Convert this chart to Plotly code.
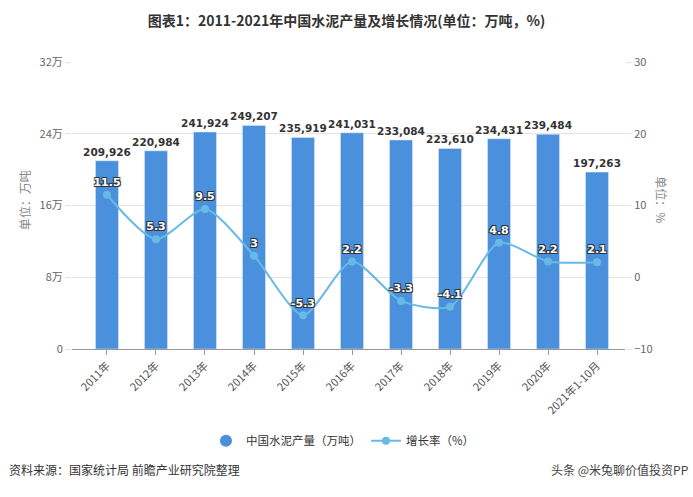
import plotly.graph_objects as go

categories = ["2011年", "2012年", "2013年", "2014年", "2015年", "2016年", "2017年",
              "2018年", "2019年", "2020年", "2021年1-10月"]
output_wan_ton = [209926, 220984, 241924, 249207, 235919, 241031, 233084,
                  223610, 234431, 239484, 197263]
growth_pct = [11.5, 5.3, 9.5, 3, -5.3, 2.2, -3.3, -4.1, 4.8, 2.2, 2.1]
left_ticks = [0, 80000, 160000, 240000, 320000]
left_tick_text = ["0", "8万", "16万", "24万", "32万"]
right_ticks = [-10, 0, 10, 20, 30]

FONT = "Noto Sans CJK SC"
BAR_COLOR = "#4a90dc"
LINE_COLOR = "#67b9e6"
idx = list(range(len(categories)))

fig = go.Figure()
fig.add_trace(go.Bar(
    x=idx, y=output_wan_ton, name="中国水泥产量（万吨）", showlegend=False,
    marker=dict(color=BAR_COLOR), width=0.47,
    text=[f"{v:,}" for v in output_wan_ton], textposition="outside",
    constraintext="none",
    textfont=dict(family="DejaVu Sans", size=10.5, color="#333333", weight="bold"),
    cliponaxis=False, yaxis="y",
))
# legend entry for bars (circle icon, as in the reference)
fig.add_trace(go.Scatter(
    x=[None], y=[None], mode="markers", name="中国水泥产量（万吨）",
    marker=dict(color=BAR_COLOR, size=12, symbol="circle"), yaxis="y",
))
fig.add_trace(go.Scatter(
    x=idx, y=growth_pct, name="增长率（%）", mode="lines+markers+text",
    line=dict(color=LINE_COLOR, width=2, shape="spline", smoothing=0.7),
    marker=dict(color=LINE_COLOR, size=8),
    text=[str(v) for v in growth_pct], textposition="top center",
    textfont=dict(family="DejaVu Sans", size=11, color="white", weight="bold",
                  shadow="-1px -1px 0 #333, 1px -1px 0 #333, -1px 1px 0 #333, 1px 1px 0 #333"),
    cliponaxis=False, yaxis="y2",
))

fig.update_layout(
    width=693, height=497,
    margin=dict(l=72, r=68, t=62, b=148),
    paper_bgcolor="white", plot_bgcolor="white",
    font=dict(family=FONT, color="#666666", size=11),
    title=dict(text="<b>图表1：2011-2021年中国水泥产量及增长情况(单位：万吨，%)</b>",
               x=0.5, xanchor="center", y=0.958, yanchor="middle",
               font=dict(family=FONT, size=14, color="#333333")),
    xaxis=dict(range=[-0.714, 10.571], tickmode="array", tickvals=idx, ticktext=categories,
               tickangle=-45, showgrid=False, showline=True, linecolor="#999999",
               ticks="outside", ticklen=5, tickcolor="#999999", automargin=False,
               tickfont=dict(size=11, color="#555555"), zeroline=False),
    yaxis=dict(range=[0, 320000], tickmode="array", tickvals=left_ticks, ticktext=left_tick_text,
               showgrid=True, gridcolor="#e3e3e3", zeroline=False, showline=False,
               ticks="outside", ticklen=6, tickcolor="#e3e3e3", automargin=False,
               tickfont=dict(size=11, color="#666666")),
    yaxis2=dict(range=[-10, 30], tickmode="array", tickvals=right_ticks, overlaying="y",
                side="right", showgrid=False, zeroline=False, showline=False,
                ticks="outside", ticklen=6, tickcolor="#e3e3e3", automargin=False,
                tickfont=dict(size=11, color="#666666")),
    legend=dict(orientation="h", x=0.49, xanchor="center", y=-0.32, yanchor="middle",
                font=dict(size=11.5, color="#333333"), itemwidth=30),
    showlegend=True,
    bargap=0.5,
)

fig.add_annotation(text="单位：万吨", xref="paper", yref="paper", x=-0.105, y=0.52,
                   textangle=-90, showarrow=False, font=dict(size=12, color="#888888"))
fig.add_annotation(text="单位：%", xref="paper", yref="paper", x=1.085, y=0.52,
                   textangle=90, showarrow=False, font=dict(size=12, color="#888888"))
fig.add_annotation(text="资料来源：国家统计局 前瞻产业研究院整理", xref="paper", yref="paper",
                   x=-0.118, xanchor="left", y=-0.42, yanchor="middle", showarrow=False,
                   font=dict(size=12, color="#333333"))
fig.add_annotation(text="头条 @米兔聊价值投资PP", xref="paper", yref="paper",
                   x=1.117, xanchor="right", y=-0.42, yanchor="middle", showarrow=False,
                   font=dict(size=12, color="#444444"))

fig.write_html("out.html", config={"displayModeBar": False},
               post_script="document.body.style.margin='0';document.body.style.padding='0';")
